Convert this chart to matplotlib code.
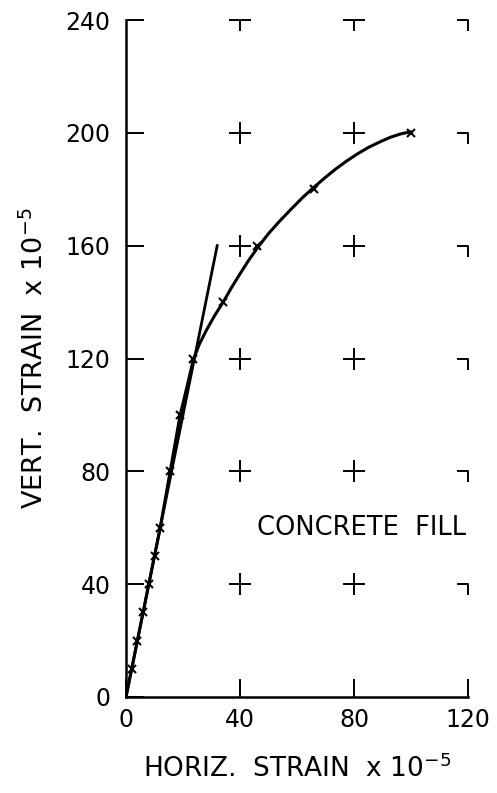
import matplotlib
matplotlib.use("Agg")
import matplotlib.pyplot as plt
from matplotlib.path import Path

# Measured points (horiz strain, vert strain) x 1e-5
meas_x = [2, 4, 6, 8, 10, 12, 15.5, 19, 23.5, 34, 46, 66, 100]
meas_y = [10, 20, 30, 40, 50, 60, 80, 100, 120, 140, 160, 180, 200]

# Fitted curve, points
curve_x = [0, 2, 4, 6, 8, 10, 12, 15.5, 19, 21.4, 23.6, 25.8, 28.3, 31.1, 34.1, 37.0, 40.0,
           43.1, 46.4, 50.1, 54.0, 57.9, 61.8, 65.7, 69.6, 73.5, 77.4, 81.3, 85.2, 89.1, 92.7,
           96.3, 100]
curve_y = [0, 10, 20, 30, 40, 50, 60, 80, 100, 110, 119.5, 125.2, 130.2, 135.2, 140, 145.1, 150,
           154.9, 159.6, 164.4, 168.8, 172.9, 176.9, 180.5, 183.9, 187.1, 190, 192.6, 194.9,
           196.8, 198.4, 199.6, 200.4]

# Initial tangent line
tangent_x = [0, 32]
tangent_y = [0, 160]

x_ticks = [0, 40, 80, 120]
y_ticks = [0, 40, 80, 120, 160, 200, 240]
annotation = "CONCRETE  FILL"

W, H = 497, 793
fig = plt.figure(figsize=(W / 100, H / 100), dpi=100)
ax = fig.add_axes([126 / W, 1 - 697 / H, (468 - 126) / W, (697 - 20) / H])
ax.set_xlim(0, 120)
ax.set_ylim(0, 240)

for s in ["top", "right"]:
    ax.spines[s].set_visible(False)
for s in ["left", "bottom"]:
    ax.spines[s].set_linewidth(1.8)

ax.set_xticks(x_ticks)
ax.set_yticks(y_ticks)
ax.tick_params(axis="both", direction="in", length=13, width=1.4, labelsize=17, colors="black")
ax.tick_params(axis="y", pad=11)
ax.tick_params(axis="x", pad=8)

# Grid marks at interior tick intersections
plus_path = Path([(-1, 0), (1, 0), (0, -1), (0, 1)],
                 [Path.MOVETO, Path.LINETO, Path.MOVETO, Path.LINETO])
tee_path = Path([(-1, 0), (1, 0), (0, 0), (0, -1)],
                [Path.MOVETO, Path.LINETO, Path.MOVETO, Path.LINETO])
corner_path = Path([(-1, 0), (0, 0), (0, -1)],
                   [Path.MOVETO, Path.LINETO, Path.LINETO])

inner_x = x_ticks[1:-1]
right_x = x_ticks[-1]
mid_y = y_ticks[1:-1]
top_y = y_ticks[-1]
mk = dict(color="black", markersize=16, markeredgewidth=1.4, markerfacecolor="none",
          linestyle="none", clip_on=False)
for xv in inner_x:
    ax.plot([xv] * len(mid_y), mid_y, marker=plus_path, **mk)
    ax.plot([xv], [top_y], marker=tee_path, **mk)
ax.plot([right_x] * (len(mid_y) + 1), mid_y + [top_y], marker=corner_path, **mk)

# Curve, tangent and measured points
ax.plot(curve_x, curve_y, color="black", lw=2.2, solid_capstyle="round", solid_joinstyle="round")
ax.plot(tangent_x, tangent_y, color="black", lw=2.0)
ax.plot(meas_x, meas_y, linestyle="none", marker="x", markersize=6, markeredgewidth=1.5,
        color="black")

ax.text(119.5, 60, annotation, ha="right", va="center", fontsize=18.5)

ax.set_xlabel("HORIZ.  STRAIN  x 10$^{-5}$", fontsize=19, labelpad=16)
ax.set_ylabel("VERT.  STRAIN  x 10$^{-5}$", fontsize=19.5, labelpad=12)

fig.savefig("out.png", dpi=100)
